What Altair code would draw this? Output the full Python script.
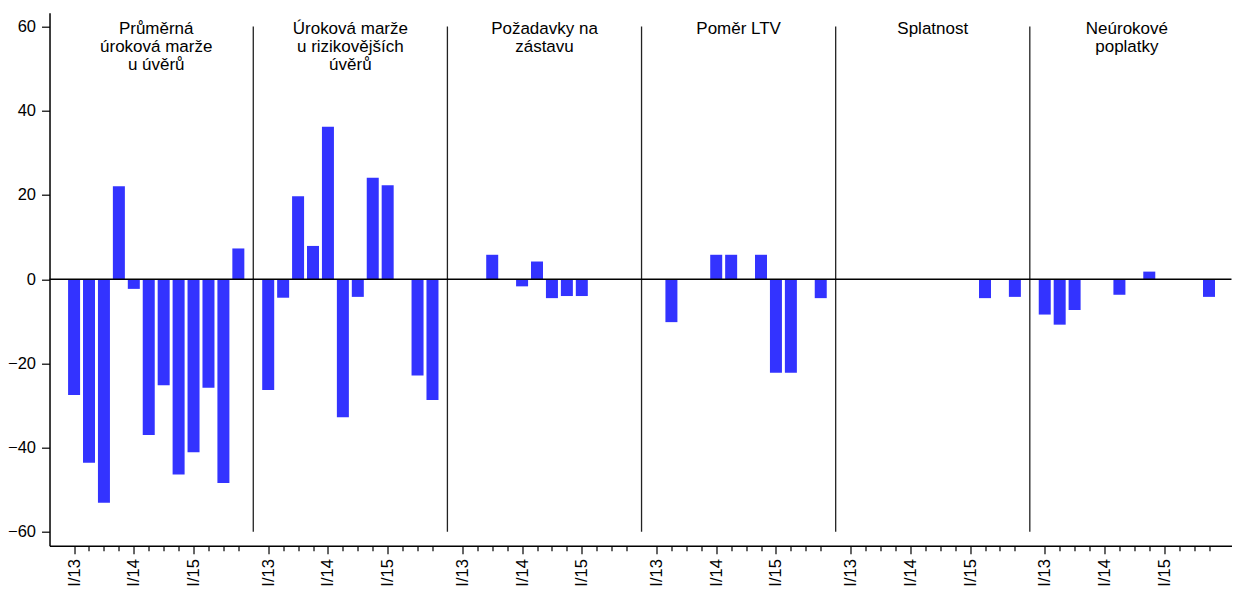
import altair as alt
import pandas as pd

# Panel titles (one per group)
panel_titles = [
    "Průměrná\núroková marže\nu úvěrů",
    "Úroková marže\nu rizikovějších\núvěrů",
    "Požadavky na\nzástavu",
    "Poměr LTV",
    "Splatnost",
    "Neúrokové\npoplatky",
]

# Quarters within each panel and their tick labels
quarters = ["I/13", "II/13", "III/13", "IV/13",
            "I/14", "II/14", "III/14", "IV/14",
            "I/15", "II/15", "III/15", "IV/15"]
tick_labels = ["I/13", "", "", "", "I/14", "", "", "", "I/15", "", "", ""]

# Values per panel (I/13 .. IV/15)
avg_margin = [-27.5, -43.6, -53.1, 22.1, -2.3, -37.0, -25.2, -46.4, -41.1, -25.8, -48.4, 7.3]
risky_margin = [-26.3, -4.4, 19.7, 7.9, 36.2, -32.8, -4.2, 24.1, 22.3, 0.0, -22.9, -28.7]
collateral = [0.0, 0.0, 5.8, 0.0, -1.7, 4.2, -4.5, -4.0, -4.0, 0.0, 0.0, 0.0]
ltv = [0.0, -10.2, 0.0, 0.0, 5.8, 5.8, 0.0, 5.8, -22.2, -22.2, 0.0, -4.5]
maturity = [0.0, 0.0, 0.0, 0.0, 0.0, 0.0, 0.0, 0.0, 0.0, -4.5, 0.0, -4.2]
fees = [-8.4, -10.8, -7.3, 0.0, 0.0, -3.7, 0.0, 1.8, 0.0, 0.0, 0.0, -4.2]

series = [avg_margin, risky_margin, collateral, ltv, maturity, fees]
slots = len(quarters) + 1  # one empty slot per panel for the separator

rows = []
for p, vals in enumerate(series):
    for q, v in enumerate(vals):
        rows.append({"pos": p * slots + q + 1, "value": v, "quarter": quarters[q]})
df = pd.DataFrame(rows)

div_df = pd.DataFrame({"pos": [p * slots for p in range(1, len(series))],
                       "value": -60, "hi": 60})
title_df = pd.DataFrame({"pos": [p * slots + (len(quarters) + 1) / 2 for p in range(len(series))],
                         "title": panel_titles})
zero_df = pd.DataFrame({"value": [0]})

FONT = "Liberation Sans"
xscale = alt.Scale(domain=[-0.31, 78.17], nice=False, zero=False)
yscale = alt.Scale(domain=[-63.3, 63.3], nice=False)

label_arr = "[" + ",".join("'" + t + "'" for t in tick_labels) + "]"
xaxis = alt.Axis(
    values=[int(v) for v in df["pos"]],
    labelExpr=label_arr + "[(datum.value - 1) % " + str(slots) + "]",
    labelAngle=270,
    labelFontSize=16.5,
    labelPadding=5,
    labelOverlap=False,
    labelFlush=False,
    tickSize={"condition": {"test": "((datum.value - 1) % " + str(slots) + ") % 4 == 0", "value": 8}, "value": 5},
    tickWidth=1.2,
    domainWidth=1.5,
    grid=False,
    title=None,
)
yaxis = alt.Axis(
    values=[-60, -40, -20, 0, 20, 40, 60],
    labelFontSize=16.5,
    labelPadding=6,
    tickSize=8,
    tickWidth=1.2,
    domainWidth=1.5,
    grid=False,
    title=None,
)

X = alt.X("pos:Q", scale=xscale, axis=xaxis)
Y = alt.Y("value:Q", scale=yscale, axis=yaxis)

bars = alt.Chart(df).mark_bar(size=12, color="#3333ff").encode(x=X, y=Y)

dividers = alt.Chart(div_df).mark_rule(color="#222222", strokeWidth=1.3).encode(
    x=X, y=Y, y2="hi:Q",
)

zero = alt.Chart(zero_df).mark_rule(color="black", strokeWidth=1.6).encode(y=Y)

titles = alt.Chart(title_df).mark_text(
    font=FONT, fontSize=17, lineBreak="\n", lineHeight=18,
    baseline="top", align="center", color="black",
).encode(
    x=X,
    y=alt.value(8.5),
    text="title:N",
)

chart = alt.layer(bars, dividers, zero, titles).properties(
    width=1182,
    height=533,
    autosize=alt.AutoSizeParams(type="none"),
    padding={"left": 41.5, "top": 4.7, "right": 0, "bottom": 46},
).configure_view(strokeWidth=0).configure_axis(
    labelFont=FONT, labelColor="black", domainColor="black", tickColor="black",
)

chart.save("out.html", embed_options={"renderer": "svg", "actions": False})
